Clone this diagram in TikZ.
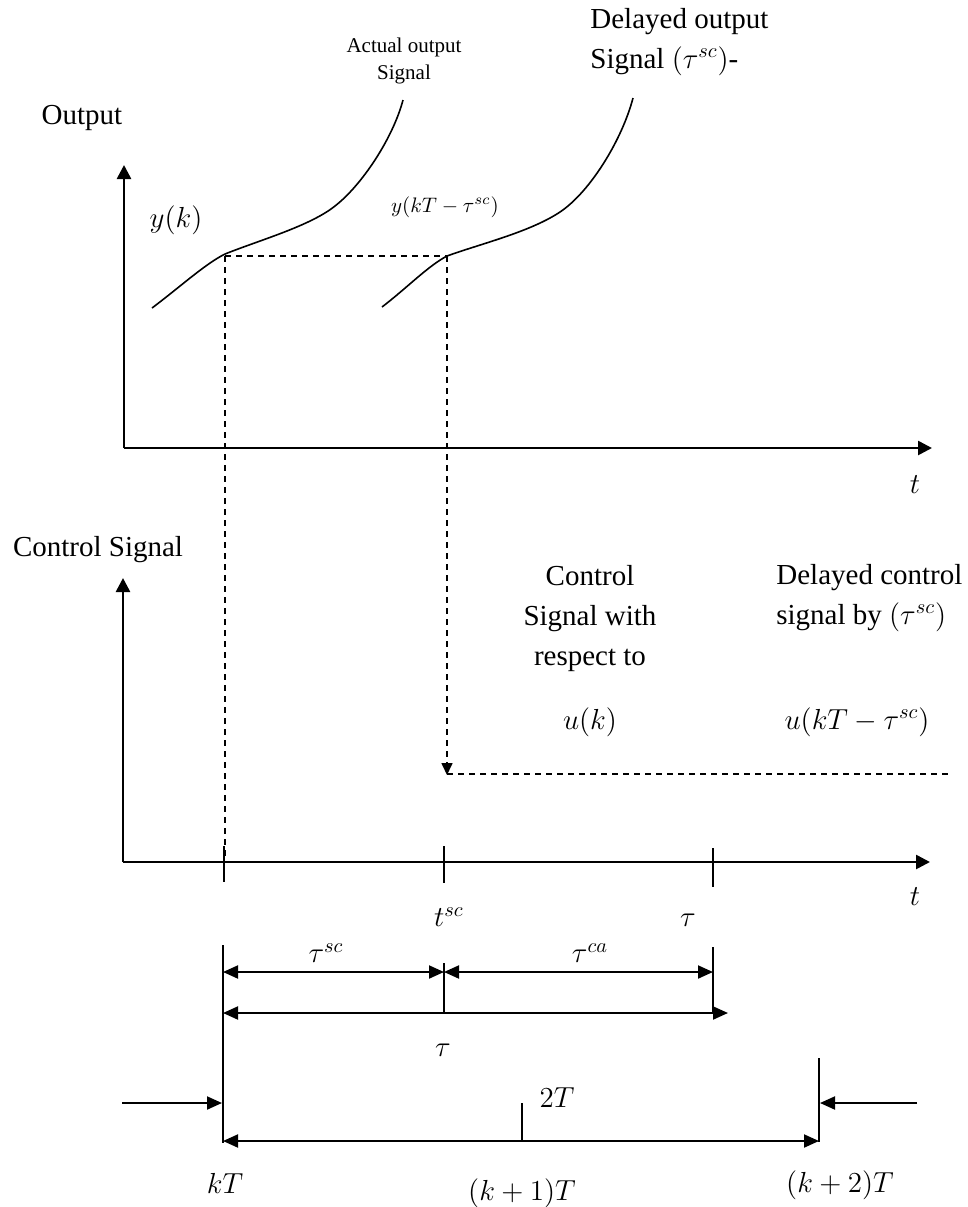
\RequirePackage{fix-cm}
\documentclass[tikz,border=0pt]{standalone}
\usepackage{fontspec}
\setmainfont{Liberation Serif}
\usetikzlibrary{arrows.meta}
\begin{document}
\begin{tikzpicture}[x=0.5pt,y=-0.5pt,
  axis/.style={line width=1.3pt,-{Triangle[length=7pt,width=7pt]}},
  curve/.style={line width=0.8pt},
  dsh/.style={line width=0.8pt,dash pattern=on 3pt off 2.5pt},
  dsharr/.style={dsh,-{Triangle[length=6pt,width=5.5pt]}},
  dimarr/.style={line width=1pt,{Triangle[length=7.5pt,width=6.5pt]}-{Triangle[length=7.5pt,width=6.5pt]}},
  onearr/.style={line width=1pt,-{Triangle[length=7.5pt,width=6.5pt]}},
  thinln/.style={line width=0.8pt},
  lbl/.style={inner sep=0pt,font=\fontsize{14.5}{20}\selectfont,align=center},
  smalllbl/.style={inner sep=0pt,font=\fontsize{10.5}{13.5}\selectfont,align=center}]
\useasboundingbox (0,0) rectangle (968,1207);
% ---------- coordinates ----------
\coordinate (O1) at (124,448);
\coordinate (Y1) at (124,165);
\coordinate (X1) at (932,448);
\coordinate (O2) at (123,862);
\coordinate (Y2) at (123,578);
\coordinate (X2) at (930,862);
\coordinate (P1) at (225,254);
\coordinate (P2) at (447,256);
\coordinate (P1a) at (225,256);
\coordinate (P1b) at (225,862);
\coordinate (P2b) at (447,775);
\coordinate (Dend) at (948,774);
\coordinate (Dst) at (447,774);
% ticks on lower axis
\coordinate (tA1) at (224,846); \coordinate (tA2) at (224,882);
\coordinate (tB1) at (444,846); \coordinate (tB2) at (444,883);
\coordinate (tC1) at (713,848); \coordinate (tC2) at (713,887);
% dimension lines
\coordinate (kTt) at (223,945); \coordinate (kTb) at (223,1143);
\coordinate (scT) at (444,963); \coordinate (scB) at (444,1013);
\coordinate (tauT) at (713,947); \coordinate (tauB) at (713,1013);
\coordinate (r1a) at (223,972); \coordinate (r1b) at (444,972); \coordinate (r1c) at (713,972);
\coordinate (r2a) at (223,1013); \coordinate (r2b) at (728,1013);
\coordinate (la) at (122,1103); \coordinate (lb) at (222,1103);
\coordinate (ra) at (917,1103); \coordinate (rb) at (820,1103);
\coordinate (k2t) at (819,1058); \coordinate (k2b) at (819,1142);
\coordinate (midT) at (522,1103); \coordinate (midB) at (522,1141);
\coordinate (r3a) at (223,1141); \coordinate (r3b) at (819,1141);
% ---------- axes ----------
\draw[axis] (O1) -- (Y1);
\draw[axis] (O1) -- (X1);
\draw[axis] (O2) -- (Y2);
\draw[axis] (O2) -- (X2);
% ---------- curves ----------
\draw[curve] (152,308) .. controls (180,287) and (205,264) .. (P1)
  .. controls (260,240) and (310,226) .. (335,206)
  .. controls (362,185) and (393,138) .. (403,100);
\draw[curve] (382,307) .. controls (408,287) and (428,266) .. (P2)
  .. controls (480,244) and (530,232) .. (560,212)
  .. controls (590,192) and (622,140) .. (633,98);
% ---------- dashed ----------
\draw[dsh] (P1a) -- (P2);
\draw[dsh] (P1a) -- (P1b);
\draw[dsharr] (P2) -- (P2b);
\draw[dsh] (Dst) -- (Dend);
% ---------- ticks ----------
\draw[thinln] (tA1) -- (tA2);
\draw[thinln] (tB1) -- (tB2);
\draw[thinln] (tC1) -- (tC2);
% ---------- dimension lines ----------
\draw[thinln] (kTt) -- (kTb);
\draw[thinln] (scT) -- (scB);
\draw[thinln] (tauT) -- (tauB);
\draw[thinln] (k2t) -- (k2b);
\draw[thinln] (midT) -- (midB);
\draw[dimarr] (r1a) -- (r1b);
\draw[dimarr] (r1b) -- (r1c);
\draw[dimarr] (r2a) -- (r2b);
\draw[onearr] (la) -- (lb);
\draw[onearr] (ra) -- (rb);
\draw[dimarr] (r3a) -- (r3b);
% ---------- labels ----------
\node[lbl] (lOut) at (82,118) {Output};
\node[lbl] (lyk) at (176,220) {$y(k)$};
\node[smalllbl] (lAct) at (404,61) {Actual output\\Signal};
\node[lbl,anchor=west,align=left] (lDel) at (590,42) {Delayed output\\Signal $(\tau^{sc})$-};
\node[smalllbl] (lykT) at (445,207) {$y(kT-\tau^{sc})$};
\node[lbl] (lt1) at (915,485) {$t$};
\node[lbl] (lCS) at (98,550) {Control Signal};
\node[lbl] (lCtrl) at (590,619) {Control\\Signal with\\respect to};
\node[lbl,anchor=west,align=left] (lDc) at (776,598) {Delayed control\\signal by $(\tau^{sc})$};
\node[lbl] (luk) at (590,722) {$u(k)$};
\node[lbl] (lukT) at (857,722) {$u(kT-\tau^{sc})$};
\node[lbl] (lt2) at (915,897) {$t$};
\node[lbl] (ltsc) at (449,917) {$t^{sc}$};
\node[lbl] (ltau1) at (688,920) {$\tau$};
\node[lbl] (ltausc) at (326,953) {$\tau^{sc}$};
\node[lbl] (ltauca) at (590,953) {$\tau^{ca}$};
\node[lbl] (ltau2) at (443,1050) {$\tau$};
\node[lbl] (l2T) at (557,1098) {$2T$};
\node[lbl] (lkT) at (225,1183) {$kT$};
\node[lbl] (lk1T) at (522,1193) {$(k+1)T$};
\node[lbl] (lk2T) at (840,1185) {$(k+2)T$};
\end{tikzpicture}
\end{document}
